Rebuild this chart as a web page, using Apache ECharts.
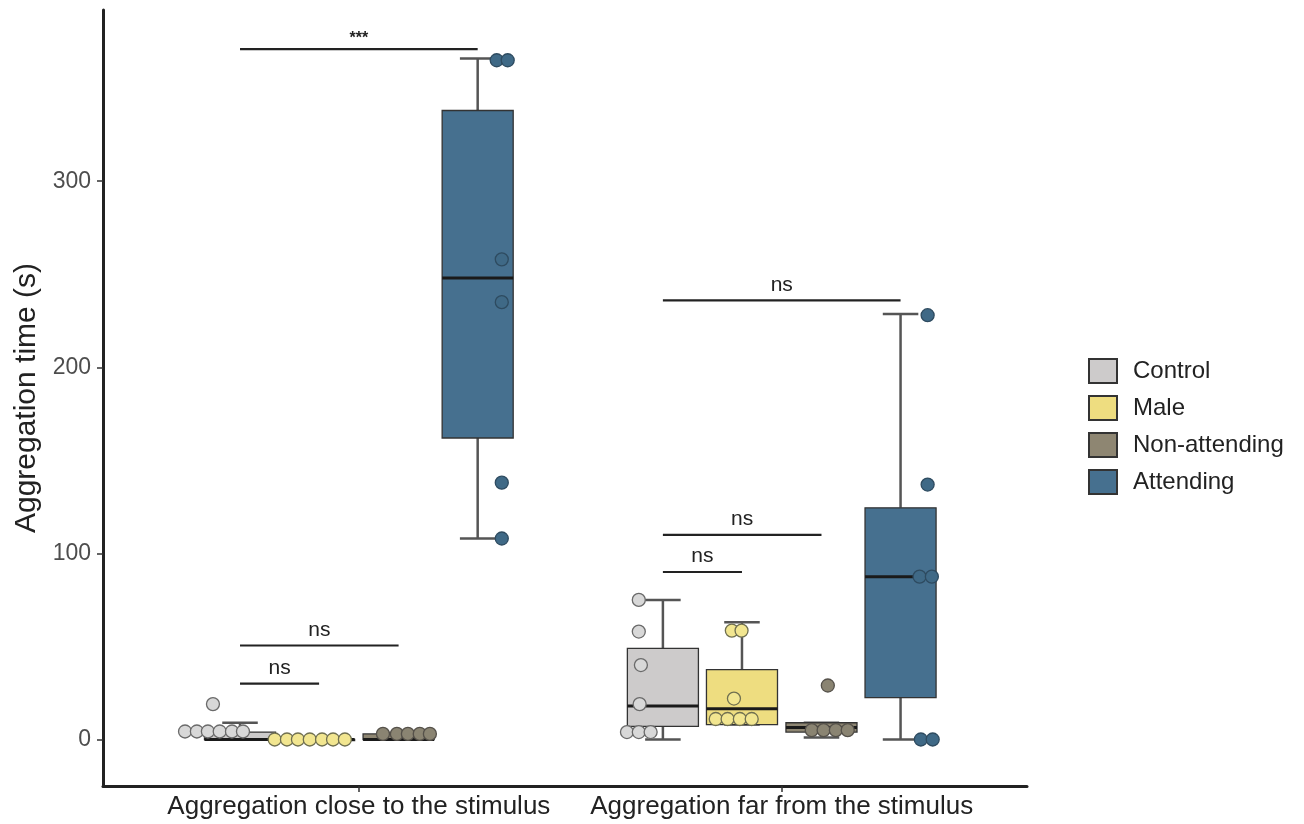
<!DOCTYPE html>
<html>
<head>
<meta charset="utf-8">
<script src="https://cdn.jsdelivr.net/npm/echarts@6/dist/echarts.min.js"></script>
<style>
  html, body { margin: 0; padding: 0; background: #fff; }
  #chart { width: 1304px; height: 824px; }
</style>
</head>
<body>
<div id="chart"></div>
<script>
// categories on the x axis (positions 1 and 2)
const categories = ['Aggregation close to the stimulus', 'Aggregation far from the stimulus']
const groups = ['Control', 'Male', 'Non-attending', 'Attending']
const yTicks = [0, 100, 200, 300]

// box stats per group: [x position, min, q1, median, q3, max]
const controlBoxes = [[0.719, 0, 0, 0, 4, 9], [1.719, 0, 7, 18, 49, 75]]
const maleBoxes = [[0.906, 0, 0, 0, 0, 0], [1.906, 8, 8, 16.5, 37.5, 63]]
const nonAttBoxes = [[1.094, 0, 0, 0, 3, 3.5], [2.094, 1, 4, 6.5, 9, 9]]
const attBoxes = [[1.281, 108, 162, 248, 338, 366], [2.281, 0, 22.5, 87.5, 124.5, 228.6]]

// jittered raw points: [x position, value]
const controlPts = [
  [0.589, 4.3], [0.617, 4.3], [0.643, 4.3], [0.671, 4.3], [0.700, 4.3], [0.726, 4.3], [0.655, 19],
  [1.662, 75], [1.662, 58], [1.667, 40], [1.664, 19], [1.634, 4], [1.662, 4], [1.690, 4]
]
const malePts = [
  [0.801, 0], [0.830, 0], [0.856, 0], [0.884, 0], [0.913, 0], [0.939, 0], [0.967, 0],
  [1.882, 58.5], [1.905, 58.5], [1.887, 22], [1.844, 11], [1.872, 11], [1.901, 11], [1.929, 11]
]
const nonAttPts = [
  [1.057, 3], [1.090, 3], [1.116, 3], [1.144, 3], [1.168, 3],
  [2.109, 29], [2.071, 5], [2.099, 5], [2.128, 5], [2.156, 5]
]
const attPts = [
  [1.326, 365], [1.352, 365], [1.338, 258], [1.338, 235], [1.338, 138], [1.338, 108],
  [2.345, 228], [2.345, 137], [2.326, 87.5], [2.355, 87.5], [2.329, 0], [2.357, 0]
]

// significance brackets: [x start, x end, y, label]
const sigBars = [
  [0.719, 1.281, 371, '***'],
  [0.719, 1.094, 50.5, 'ns'],
  [0.719, 0.906, 30, 'ns'],
  [1.719, 2.281, 236, 'ns'],
  [1.719, 2.094, 110, 'ns'],
  [1.719, 1.906, 90, 'ns']
]

const boxFill = ['#CDCBCB', '#EEDD80', '#8E8672', '#46708F']
const ptFill = ['#D8D8D8', '#F2E690', '#8A8472', '#3F6986']
const ptBorder = ['#6a6a6a', '#707050', '#55514a', '#2E4B60']
const boxData = [controlBoxes, maleBoxes, nonAttBoxes, attBoxes]
const ptData = [controlPts, malePts, nonAttPts, attPts]

const font = 'Liberation Sans, Arial, Helvetica, sans-serif'
const BOX_W = 0.168

function renderBox(params, api) {
  const x = api.value(0)
  const lo = api.coord([x, api.value(1)])
  const q1 = api.coord([x, api.value(2)])
  const med = api.coord([x, api.value(3)])
  const q3 = api.coord([x, api.value(4)])
  const hi = api.coord([x, api.value(5)])
  const hw = api.size([BOX_W, 0])[0] / 2
  const cx = lo[0]
  const wStyle = { stroke: '#555', lineWidth: 2.5 }
  return {
    type: 'group',
    children: [
      { type: 'line', shape: { x1: cx, y1: q3[1], x2: cx, y2: hi[1] }, style: wStyle },
      { type: 'line', shape: { x1: cx, y1: lo[1], x2: cx, y2: q1[1] }, style: wStyle },
      { type: 'line', shape: { x1: cx - hw / 2, y1: hi[1], x2: cx + hw / 2, y2: hi[1] }, style: wStyle },
      { type: 'line', shape: { x1: cx - hw / 2, y1: lo[1], x2: cx + hw / 2, y2: lo[1] }, style: wStyle },
      {
        type: 'rect',
        shape: { x: cx - hw, y: q3[1], width: hw * 2, height: Math.max(q1[1] - q3[1], 1) },
        style: { fill: api.visual('color'), stroke: '#333', lineWidth: 1.3 }
      },
      { type: 'line', shape: { x1: cx - hw, y1: med[1], x2: cx + hw, y2: med[1] }, style: { stroke: '#1a1a1a', lineWidth: 3 } }
    ]
  }
}

function renderSig(params, api) {
  const a = api.coord([api.value(0), api.value(2)])
  const b = api.coord([api.value(1), api.value(2)])
  const label = sigBars[params.dataIndex][3]
  return {
    type: 'group',
    children: [
      { type: 'line', shape: { x1: a[0], y1: a[1], x2: b[0], y2: b[1] }, style: { stroke: '#222', lineWidth: 2.2 } },
      {
        type: 'text',
        style: {
          x: (a[0] + b[0]) / 2, y: a[1] - (label === '***' ? 2 : 5),
          text: label, fill: '#222', align: 'center', verticalAlign: 'bottom',
          font: (label === '***' ? 'bold 16px ' : '21px ') + font
        }
      }
    ]
  }
}

const series = []
groups.forEach((g, i) => {
  series.push({
    name: g,
    type: 'custom',
    renderItem: renderBox,
    encode: { x: 0, y: [1, 2, 3, 4, 5] },
    itemStyle: { color: boxFill[i], borderColor: '#333', borderWidth: 1.3 },
    data: boxData[i],
    z: 2
  })
})
groups.forEach((g, i) => {
  series.push({
    name: g,
    type: 'scatter',
    symbolSize: 13,
    itemStyle: { color: ptFill[i], borderColor: ptBorder[i], borderWidth: 1.3, opacity: 1 },
    data: ptData[i],
    z: 3
  })
})
series.push({
  type: 'custom',
  renderItem: renderSig,
  encode: { x: [0, 1], y: 2 },
  data: sigBars.map(d => [d[0], d[1], d[2]]),
  silent: true,
  z: 4
})

const myChart = echarts.init(document.getElementById('chart'))
myChart.setOption({
  animation: false,
  backgroundColor: '#fff',
  grid: { left: 103, right: 277, top: 10, bottom: 38 },
  legend: {
    data: groups,
    orient: 'vertical',
    left: 1088,
    top: 358,
    padding: 0,
    itemWidth: 28,
    itemHeight: 24,
    itemGap: 11,
    icon: 'rect',
    textStyle: { color: '#222', fontSize: 24, fontFamily: font, padding: [0, 0, 0, 11] }
  },
  xAxis: {
    type: 'value',
    min: 0.395,
    max: 2.58,
    splitLine: { show: false },
    axisLine: { onZero: false, lineStyle: { color: '#222', width: 3 } },
    axisTick: { customValues: [1, 2], length: 6, lineStyle: { color: '#333', width: 1.5 } },
    axisLabel: {
      customValues: [1, 2],
      formatter: v => categories[Math.round(v) - 1],
      color: '#222', fontSize: 26, fontFamily: font, margin: 8
    }
  },
  yAxis: {
    type: 'value',
    min: -25,
    max: 392,
    name: 'Aggregation time (s)',
    nameLocation: 'middle',
    nameGap: 59,
    nameTextStyle: { color: '#222', fontSize: 30, fontFamily: font },
    splitLine: { show: false },
    axisLine: { show: true, onZero: false, lineStyle: { color: '#222', width: 3 } },
    axisTick: { show: true, customValues: yTicks, length: 6, lineStyle: { color: '#333', width: 1.5 } },
    axisLabel: { customValues: yTicks, color: '#4d4d4d', fontSize: 23, fontFamily: font, margin: 12 }
  },
  series: series
})
window.addEventListener('resize', () => myChart.resize())
</script>
</body>
</html>
